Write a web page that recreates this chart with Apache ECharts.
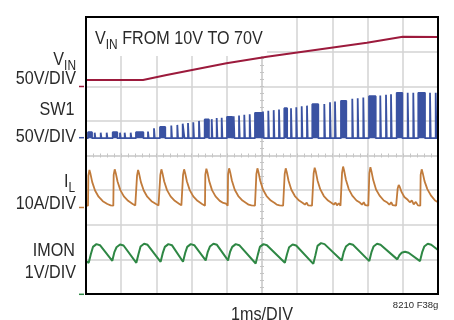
<!DOCTYPE html>
<html>
<head>
<meta charset="utf-8">
<script src="https://cdn.jsdelivr.net/npm/echarts@6/dist/echarts.min.js"></script>
<style>
  html, body { margin: 0; padding: 0; background: #fff; }
  #chart { width: 454px; height: 320px; }
</style>
</head>
<body>
<div id="chart"></div>
<script>
  // VIN ramp, [ms, V]
  const vinData = [[0, 9], [1.62, 9], [2.29, 16.2], [3.99, 33.1], [5.14, 42.6], [7.98, 62.9], [9.0, 71.5], [10, 71.2]];

  // SW1 switching pulses: start (ms), width (ms), height (V)
  const sw1Start = [0.057, 0.247, 0.418, 0.588, 0.759, 0.966, 1.099, 1.27, 1.42, 1.761,
    1.932, 2.102, 2.423, 2.594, 2.747, 2.898, 3.048, 3.21, 3.372, 3.571,
    3.713, 3.855, 4.006, 4.196, 4.347, 4.497, 4.651, 4.801, 5.028, 5.179,
    5.332, 5.483, 5.634, 5.824, 5.974, 6.128, 6.278, 6.429, 6.77, 6.932,
    7.074, 7.244, 7.565, 7.719, 7.878, 8.04, 8.36, 8.523, 8.665, 8.827,
    9.139, 9.298, 9.44, 9.773, 9.935];
  const sw1Width = [0.114, 0.02, 0.02, 0.02, 0.13, 0.02, 0.02, 0.02, 0.21, 0.02,
    0.02, 0.15, 0.02, 0.02, 0.05, 0.02, 0.02, 0.02, 0.12, 0.02,
    0.02, 0.02, 0.15, 0.02, 0.02, 0.02, 0.02, 0.19, 0.02, 0.02,
    0.02, 0.02, 0.08, 0.02, 0.02, 0.02, 0.02, 0.17, 0.02, 0.02,
    0.02, 0.15, 0.02, 0.02, 0.02, 0.19, 0.02, 0.02, 0.02, 0.16,
    0.02, 0.02, 0.19, 0.02, 0.02];
  const sw1Volt = [8.7, 8, 8, 8, 8.7, 8, 8, 8, 8.7, 9.6,
    14.4, 16.3, 18.2, 19.2, 21, 22, 23, 25, 27, 27.5,
    29, 29.5, 30.8, 31.5, 32.7, 33.7, 34.7, 36.6, 38.5, 39.5,
    40.5, 41.4, 43.3, 43.3, 44.8, 46.2, 47, 49, 49.5, 52,
    52.9, 54, 56.8, 57.8, 58.8, 60.7, 61.6, 62.6, 63.6, 65.5,
    65.5, 65.5, 65.5, 65.5, 65.5];

  // inductor current, [ms, A]
  const ilData = [[0, 0.5],
    [0.057, 0.5], [0.067, 9.2], [0.097, 10.8], [0.127, 9.7], [0.177, 7.3], [0.257, 4.9], [0.357, 3.1], [0.477, 1.8], [0.607, 1.0], [0.7, 0.6],
    [0.776, 0.5], [0.786, 9.4], [0.816, 11.0], [0.846, 9.9], [0.896, 7.5], [0.976, 5.0], [1.076, 3.2], [1.196, 1.9], [1.326, 1.0], [1.40, 0.6],
    [1.44, 0.5], [1.45, 9.2], [1.48, 10.8], [1.51, 9.7], [1.56, 7.3], [1.64, 4.9], [1.74, 3.1], [1.86, 1.8], [1.99, 1.0], [2.06, 0.6],
    [2.102, 0.5], [2.112, 9.4], [2.142, 11.0], [2.172, 9.9], [2.222, 7.5], [2.302, 5.0], [2.402, 3.2], [2.522, 1.9], [2.652, 1.0], [2.71, 0.6],
    [2.747, 0.5], [2.757, 9.4], [2.787, 11.0], [2.817, 9.9], [2.867, 7.5], [2.947, 5.0], [3.047, 3.2], [3.167, 1.9], [3.297, 1.0], [3.35, 0.6],
    [3.38, 0.5], [3.39, 9.5], [3.42, 11.2], [3.45, 10.1], [3.50, 7.6], [3.58, 5.0], [3.68, 3.2], [3.80, 1.9], [3.90, 1.3], [3.94, 0.8], [3.98, 1.1],
    [4.026, 0.5], [4.036, 9.6], [4.066, 11.3], [4.096, 10.2], [4.146, 7.7], [4.226, 5.1], [4.326, 3.3], [4.446, 2.0], [4.55, 1.3], [4.62, 0.8], [4.66, 1.2], [4.70, 0.6], [4.75, 1.0], [4.80, 0.5],
    [4.83, 0.5], [4.84, 9.6], [4.87, 11.3], [4.90, 10.2], [4.95, 7.7], [5.03, 5.1], [5.13, 3.3], [5.25, 2.0], [5.36, 1.3], [5.42, 0.8], [5.46, 1.3], [5.50, 0.6], [5.55, 1.1], [5.60, 0.5],
    [5.634, 0.5], [5.644, 9.6], [5.674, 11.3], [5.704, 10.2], [5.754, 7.7], [5.834, 5.1], [5.934, 3.3], [6.054, 2.0], [6.16, 1.3], [6.22, 0.8], [6.27, 1.4], [6.31, 0.6], [6.36, 1.1], [6.42, 0.5],
    [6.457, 0.5], [6.467, 9.8], [6.497, 11.5], [6.527, 10.4], [6.577, 7.8], [6.657, 5.2], [6.757, 3.3], [6.877, 2.0], [6.98, 1.3], [7.04, 0.8], [7.09, 1.4], [7.13, 0.6], [7.18, 1.2], [7.23, 0.5],
    [7.264, 0.5], [7.274, 10.0], [7.304, 11.8], [7.334, 10.6], [7.384, 8.0], [7.464, 5.3], [7.564, 3.4], [7.684, 2.0], [7.78, 1.4], [7.84, 0.8], [7.89, 1.5], [7.93, 0.7], [7.98, 1.2], [8.02, 0.5],
    [8.04, 0.5], [8.05, 9.9], [8.08, 11.6], [8.11, 10.4], [8.16, 7.9], [8.24, 5.2], [8.34, 3.4], [8.46, 2.0], [8.56, 1.4], [8.62, 0.8], [8.67, 1.5], [8.71, 0.7], [8.76, 1.2], [8.81, 0.5],
    [8.844, 0.5], [8.854, 5.5], [8.884, 6.5], [8.914, 5.9], [8.964, 4.5], [9.044, 3.0], [9.14, 2.2], [9.20, 1.5], [9.26, 2.0], [9.31, 0.9], [9.37, 1.6], [9.43, 0.6],
    [9.497, 0.5], [9.507, 9.4], [9.537, 11.0], [9.567, 9.9], [9.617, 7.6], [9.697, 5.3], [9.797, 3.5], [9.917, 2.0], [9.96, 1.6], [10, 1.5]];

  // IMON, [ms, V]
  const imonData = [[0, 0.95],
    [0.077, 0.90], [0.137, 1.15], [0.197, 1.36], [0.297, 1.44], [0.397, 1.41],
    [0.747, 0.96], [0.807, 1.21], [0.867, 1.35], [0.967, 1.43], [1.067, 1.40],
    [1.43, 0.90], [1.49, 1.15], [1.55, 1.37], [1.65, 1.45], [1.75, 1.42],
    [2.12, 0.93], [2.18, 1.18], [2.24, 1.36], [2.34, 1.44], [2.44, 1.41],
    [2.756, 0.93], [2.816, 1.18], [2.876, 1.36], [2.976, 1.44], [3.076, 1.41],
    [3.40, 0.97], [3.46, 1.22], [3.52, 1.37], [3.62, 1.45], [3.72, 1.42],
    [4.034, 0.97], [4.094, 1.22], [4.154, 1.36], [4.254, 1.44], [4.354, 1.41],
    [4.82, 0.88], [4.88, 1.13], [4.94, 1.36], [5.04, 1.44], [5.14, 1.41],
    [5.65, 0.90], [5.71, 1.15], [5.77, 1.35], [5.87, 1.43], [5.97, 1.40],
    [6.457, 0.87], [6.517, 1.12], [6.577, 1.39], [6.677, 1.47], [6.777, 1.44],
    [7.264, 0.97], [7.324, 1.22], [7.384, 1.37], [7.484, 1.45], [7.584, 1.42],
    [8.048, 0.95], [8.108, 1.20], [8.168, 1.37], [8.268, 1.45], [8.368, 1.42],
    [8.844, 1.00], [8.904, 1.12], [8.964, 1.19], [9.064, 1.22], [9.164, 1.19],
    [9.489, 0.95], [9.549, 1.20], [9.609, 1.37], [9.709, 1.45], [9.809, 1.42], [10, 1.27]];

  const C_VIN = '#9c1a3c', C_SW = '#3a52a2', C_IL = '#c17b3b', C_IMON = '#2e8744';
  const FONT = "'Liberation Sans', Arial, sans-serif";
  const TXT = '#2a2a2a';

  // pulse list -> step outline
  let sw1Data = [[0, 0]];
  sw1Start.forEach(function (t, i) {
    let w = sw1Width[i], v = sw1Volt[i];
    sw1Data.push([t, 0], [t, v], [t + w, v], [t + w, 0]);
  });
  sw1Data.push([10, 0]);

  function txt(s, x, y, size, align) {
    return {
      type: 'text', x: x, y: y, scaleX: 0.85, z: 10,
      style: {
        text: s, font: size + 'px ' + FONT, fill: TXT,
        align: align, textAlign: align, verticalAlign: 'middle', textVerticalAlign: 'middle'
      }
    };
  }
  function mark(y, color) {
    return { type: 'line', z: 10, shape: { x1: 79, y1: y, x2: 84, y2: y }, style: { stroke: color, lineWidth: 1.5 } };
  }

  let hide = { axisLine: { show: false }, axisTick: { show: false }, axisLabel: { show: false }, splitLine: { show: false } };
  let gridLine = { lineStyle: { color: '#d3d3d3', width: 1.5 } };

  function tickAxis(inside, other) {
    return {
      type: 'value', min: other === 'x' ? -5 : -4, max: other === 'x' ? 5 : 4, interval: 0.2,
      axisLine: { onZero: true, onZeroAxisIndex: 1, lineStyle: { color: '#d3d3d3', width: 1.5 } },
      axisTick: { inside: inside, length: 2, lineStyle: { color: '#c4c4c4', width: 1 } },
      axisLabel: { show: false }, splitLine: { show: false }
    };
  }

  let myChart = echarts.init(document.getElementById('chart'));
  myChart.setOption({
    animation: false,
    grid: { left: 86, top: 17, width: 352, height: 277 },
    xAxis: [
      Object.assign({ type: 'value', min: 0, max: 10, interval: 1 }, hide, { splitLine: gridLine }),
      tickAxis(true, 'x'),
      tickAxis(false, 'x')
    ],
    yAxis: [
      Object.assign({ type: 'value', min: 0, max: 8, interval: 1 }, hide, { splitLine: gridLine }),
      tickAxis(true, 'y'),
      tickAxis(false, 'y'),
      { type: 'value', min: -300, max: 100, show: false },  // VIN 50V/DIV
      { type: 'value', min: -225, max: 175, show: false },  // SW1 50V/DIV
      { type: 'value', min: -25, max: 55, show: false },    // IL 10A/DIV
      { type: 'value', min: 0, max: 8, show: false }        // IMON 1V/DIV
    ],
    graphic: [
      { type: 'rect', z: 1, shape: { x: 87, y: 18, width: 180, height: 38 }, style: { fill: '#fff' } },
      // plot frame
      { type: 'rect', z: 20, shape: { x: 86, y: 17, width: 352, height: 277 }, style: { fill: null, stroke: '#000', lineWidth: 2 } },
      txt('V', 95, 39, 19, 'left'),
      txt('IN', 105.8, 45, 14, 'left'),
      txt(' FROM 10V TO 70V', 117.7, 39, 19, 'left'),
      txt('IN', 76, 66, 14, 'right'),
      txt('V', 64.1, 60, 19, 'right'),
      txt('50V/DIV', 76, 79, 19, 'right'),
      txt('SW1', 74.5, 110, 19, 'right'),
      txt('50V/DIV', 76, 136.3, 19, 'right'),
      txt('L', 75, 188.3, 14, 'right'),
      txt('I', 68.4, 181.7, 19, 'right'),
      txt('10A/DIV', 76, 203.3, 19, 'right'),
      txt('IMON', 75, 251.2, 19, 'right'),
      txt('1V/DIV', 76, 272.7, 19, 'right'),
      txt('1ms/DIV', 262, 315, 19, 'center'),
      {
        type: 'text', x: 438.3, y: 305.7, z: 10,
        style: { text: '8210 F38g', font: '9.5px ' + FONT, fill: TXT, align: 'right', textAlign: 'right', verticalAlign: 'middle', textVerticalAlign: 'middle' }
      },
      mark(86.5, C_VIN),
      mark(137.7, C_SW),
      mark(207.5, C_IL),
      mark(294.3, C_IMON)
    ],
    series: [
      {
        name: 'VIN', type: 'line', xAxisIndex: 0, yAxisIndex: 3, data: vinData,
        symbol: 'none', silent: true, lineStyle: { color: C_VIN, width: 2 }
      },
      {
        name: 'SW1', type: 'line', xAxisIndex: 0, yAxisIndex: 4, data: sw1Data,
        symbol: 'none', silent: true, lineStyle: { color: C_SW, width: 1.8 },
        areaStyle: { color: C_SW, opacity: 1 }
      },
      {
        name: 'IL', type: 'line', xAxisIndex: 0, yAxisIndex: 5, data: ilData,
        symbol: 'none', silent: true, lineStyle: { color: C_IL, width: 1.8 }
      },
      {
        name: 'IMON', type: 'line', xAxisIndex: 0, yAxisIndex: 6, data: imonData,
        symbol: 'none', silent: true, lineStyle: { color: C_IMON, width: 2 }
      }
    ]
  });
  window.addEventListener('resize', myChart.resize);
</script>
</body>
</html>
